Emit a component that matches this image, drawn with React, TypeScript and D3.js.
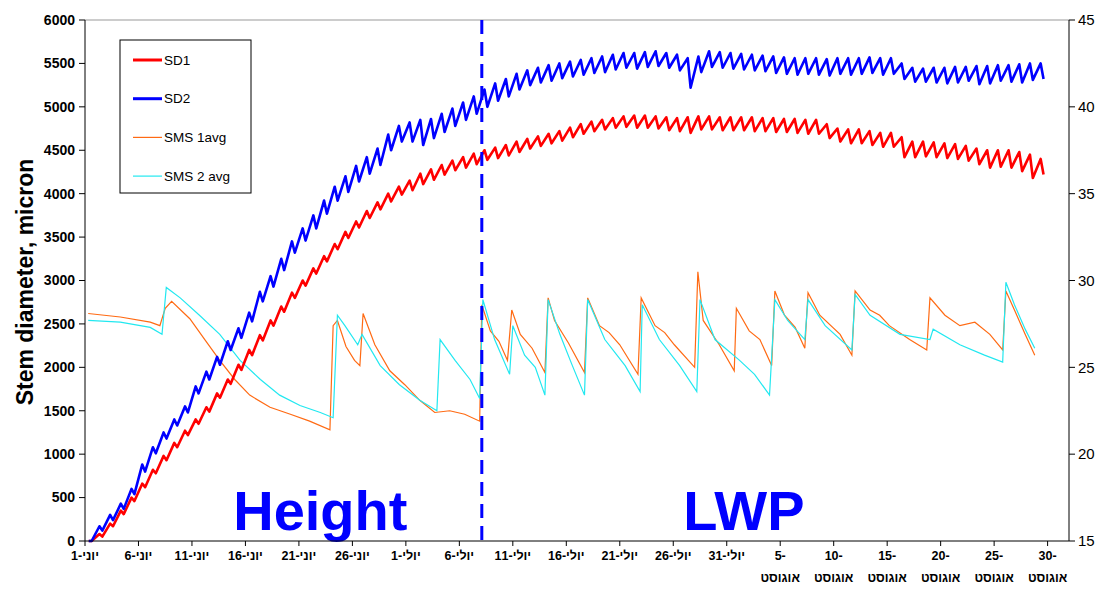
import React from "react";
import * as d3 from "d3";

// daily envelope of stem diameter (micron): morning max / afternoon min, day 0 = 1 June
const sd1Max = [
  0, 80, 200, 350, 500, 660, 820, 980, 1130, 1270,
  1400, 1540, 1700, 1860, 2030, 2200, 2370, 2540, 2700, 2860,
  3000, 3140, 3280, 3420, 3560, 3680, 3800, 3900, 4000, 4080,
  4150, 4230, 4280, 4330, 4380, 4420, 4460, 4500, 4530, 4560,
  4600, 4630, 4660, 4690, 4720, 4760, 4800, 4830, 4850, 4870,
  4890, 4900, 4900, 4890, 4880, 4870, 4880, 4890, 4890, 4880,
  4880, 4880, 4880, 4870, 4870, 4860, 4860, 4850, 4850, 4800,
  4750, 4740, 4740, 4720, 4700, 4700, 4650, 4600, 4600, 4590,
  4580, 4570, 4550, 4520, 4500, 4500, 4500, 4480, 4450, 4400,
];
const sd1Min = [
  0, 50, 170, 310, 460, 620, 780, 930, 1080, 1220,
  1350, 1490, 1650, 1810, 1970, 2140, 2310, 2480, 2640, 2800,
  2940, 3080, 3220, 3360, 3490, 3610, 3720, 3820, 3910, 3990,
  4040, 4110, 4160, 4220, 4270, 4300, 4340, 4390, 4410, 4440,
  4480, 4520, 4550, 4580, 4610, 4650, 4690, 4720, 4740, 4760,
  4770, 4760, 4760, 4750, 4730, 4720, 4700, 4740, 4740, 4730,
  4730, 4730, 4720, 4720, 4710, 4710, 4700, 4690, 4690, 4640,
  4600, 4580, 4580, 4560, 4540, 4540, 4420, 4420, 4430, 4420,
  4410, 4400, 4380, 4340, 4300, 4310, 4300, 4260, 4180, 4220,
];
const sd2Max = [
  0, 170, 300, 430, 600, 880, 1080, 1250, 1400, 1550,
  1780, 1950, 2120, 2300, 2450, 2630, 2870, 3050, 3250, 3450,
  3600, 3750, 3920, 4080, 4200, 4320, 4420, 4520, 4680, 4780,
  4820, 4850, 4860, 4920, 4980, 5050, 5120, 5200, 5270, 5320,
  5380, 5420, 5450, 5480, 5500, 5520, 5540, 5560, 5580, 5600,
  5620, 5620, 5630, 5640, 5620, 5600, 5560, 5580, 5640, 5630,
  5620, 5610, 5600, 5590, 5580, 5570, 5560, 5560, 5560, 5550,
  5560, 5560, 5560, 5570, 5560, 5560, 5500, 5450, 5440, 5450,
  5450, 5460, 5460, 5470, 5470, 5480, 5480, 5490, 5500, 5500,
];
const sd2Min = [
  0, 120, 240, 370, 540, 800, 1010, 1180, 1330, 1480,
  1700, 1860, 2030, 2200, 2340, 2530, 2760, 2930, 3120, 3320,
  3460, 3600, 3770, 3920, 4020, 4140, 4230, 4330, 4500, 4600,
  4600, 4560, 4640, 4710, 4780, 4850, 4920, 5000, 5070, 5120,
  5200, 5250, 5280, 5300, 5330, 5350, 5370, 5390, 5400, 5430,
  5450, 5440, 5460, 5470, 5450, 5420, 5220, 5400, 5460, 5450,
  5440, 5430, 5420, 5410, 5390, 5380, 5370, 5380, 5370, 5360,
  5380, 5370, 5380, 5390, 5370, 5380, 5320, 5290, 5290, 5280,
  5270, 5280, 5300, 5260, 5270, 5300, 5290, 5280, 5310, 5320,
];

// soil moisture sensors (right axis), sampled at turning points
const sms1Days = [
  0.3, 3.3, 6.1, 7.0, 7.5, 8.1, 9.8, 11.2, 12.6, 14.0, 15.4, 17.3, 19.2, 21.0, 22.9,
  23.2, 23.6, 24.4, 25.2, 25.7, 26.0, 27.1, 28.5, 29.9, 31.3, 32.7, 34.1, 35.5, 36.9,
  37.1, 37.9, 38.7, 39.5, 39.9, 40.7, 41.8, 43.0, 43.3, 43.9, 45.2, 46.7, 47.0, 48.1, 49.0, 50.0, 51.7,
  52.0, 53.3, 54.2, 55.1, 57.0, 57.3, 57.8, 59.3, 60.7, 60.9, 62.1, 63.1, 64.2, 64.5, 65.4,
  66.4, 67.3, 67.6, 68.7, 70.6, 71.7, 72.0, 73.4, 74.3, 75.2, 77.1, 78.7, 79.0, 80.4, 81.8,
  83.2, 84.6, 85.8, 86.1, 86.9, 87.9, 88.8,
];
const sms1Vals = [
  28.1, 27.9, 27.6, 27.4, 28.4, 28.8, 27.8, 26.6, 25.4, 24.3, 23.4, 22.7, 22.3, 21.9, 21.4,
  27.4, 27.7, 26.2, 25.4, 25.1, 28.1, 26.3, 24.8, 24.0, 23.1, 22.4, 22.5, 22.3, 21.9,
  28.6, 27.1, 26.5, 25.4, 28.3, 26.9, 26.1, 24.7, 29.0, 27.7, 26.4, 24.7, 29.0, 27.4, 27.0, 26.3, 24.6,
  29.0, 27.4, 27.0, 26.3, 25.0, 30.5, 27.7, 26.3, 24.8, 28.4, 27.1, 26.6, 25.1, 29.4, 28.0,
  27.3, 26.1, 29.3, 28.0, 26.9, 25.7, 29.4, 28.3, 28.0, 27.4, 26.6, 26.0, 29.0, 28.0, 27.4,
  27.6, 26.9, 26.0, 29.4, 28.3, 26.9, 25.7,
];
const sms2Days = [
  0.3, 3.3, 6.1, 7.2, 7.6, 8.9, 10.7, 12.6, 14.5, 16.4, 18.2, 20.1, 22.0, 23.2,
  23.6, 24.3, 25.5, 25.9, 27.6, 29.4, 31.3, 32.9, 33.2, 34.6, 36.0, 36.9,
  37.2, 38.3, 39.7, 40.0, 41.1, 42.1, 43.0, 43.3, 44.4, 45.5, 46.7, 47.0, 48.6, 50.5, 51.9,
  52.1, 53.7, 55.6, 57.2, 57.5, 58.9, 61.2, 62.6, 64.0, 64.5, 65.7, 67.3, 67.6,
  69.2, 71.7, 72.0, 73.4, 76.2, 79.0, 79.3, 81.8, 84.1, 85.8, 86.1, 86.9, 87.9, 88.8,
];
const sms2Vals = [
  27.7, 27.6, 27.3, 26.9, 29.6, 29.0, 28.0, 26.9, 25.4, 24.3, 23.4, 22.8, 22.4, 22.1,
  28.0, 27.4, 26.3, 26.9, 25.1, 24.0, 23.1, 22.5, 26.6, 25.4, 24.3, 23.2,
  28.9, 26.6, 24.6, 27.4, 25.7, 25.0, 23.4, 28.9, 26.9, 25.2, 23.4, 28.9, 26.6, 25.1, 23.6,
  28.6, 26.6, 25.1, 23.6, 28.9, 26.6, 25.4, 24.6, 23.4, 28.9, 27.7, 26.6, 28.9,
  27.4, 26.0, 29.2, 28.0, 26.9, 26.6, 27.2, 26.3, 25.7, 25.3, 29.9, 28.6, 27.2, 26.1,
];

const leftTicks = [0, 500, 1000, 1500, 2000, 2500, 3000, 3500, 4000, 4500, 5000, 5500, 6000];
const rightTicks = [15, 20, 25, 30, 35, 40, 45];
const xTickDays = [0, 5, 10, 15, 20, 25, 30, 35, 40, 45, 50, 55, 60, 65, 70, 75, 80, 85, 90];
const xTickTop = [
  "1-יוני", "6-יוני", "11-יוני", "16-יוני", "21-יוני", "26-יוני",
  "1-יולי", "6-יולי", "11-יולי", "16-יולי", "21-יולי", "26-יולי", "31-יולי",
  "5-", "10-", "15-", "20-", "25-", "30-",
];
const xTickBottom = ["", "", "", "", "", "", "", "", "", "", "", "", "", "אוגוסט", "אוגוסט", "אוגוסט", "אוגוסט", "אוגוסט", "אוגוסט"];
const lwpStartDay = 37.1;
const phases = [
  { name: "Height", day: 22.0 },
  { name: "LWP", day: 61.6 },
];

const legendItems = [
  { name: "SD1", color: "#ff0000", width: 3 },
  { name: "SD2", color: "#0000ff", width: 3 },
  { name: "SMS 1avg", color: "#ff6a13", width: 1.2 },
  { name: "SMS 2 avg", color: "#22e8f0", width: 1.2 },
];

const FONT = "'Liberation Sans', Arial, sans-serif";

const App = () => {
  const left = 85, right = 1069, top = 20, bottom = 541;
  const x = d3.scaleLinear().domain([0, 92]).range([left, right]);
  const yL = d3.scaleLinear().domain([0, 6000]).range([bottom, top]);
  const yR = d3.scaleLinear().domain([15, 45]).range([bottom, top]);

  // stem shrinks fast in the afternoon, recovers overnight
  const toSd = (mx: number[], mn: number[]) =>
    mx.flatMap((v, i) => [[i + 0.35, v], [i + 0.62, mn[i]]]);

  const lineL = d3.line<number[]>().x((d) => x(d[0])).y((d) => yL(d[1]));
  const lineR = d3.line<number[]>().x((d) => x(d[0])).y((d) => yR(d[1]));

  const sd1 = toSd(sd1Max, sd1Min);
  const sd2 = toSd(sd2Max, sd2Min);
  const sms1 = sms1Days.map((d, i) => [d, sms1Vals[i]]);
  const sms2 = sms2Days.map((d, i) => [d, sms2Vals[i]]);

  return (
    <svg width={1100} height={590} style={{ position: "absolute", left: 0, top: 0, background: "#fff" }} fontFamily={FONT}>
      <rect x={0} y={0} width={1100} height={590} fill="#fff" />
      {/* plot frame */}
      <line x1={left} x2={right} y1={top} y2={top} stroke="#999" strokeWidth={1} />

      {/* series */}
      <path d={lineR(sms1) || ""} fill="none" stroke={legendItems[2].color} strokeWidth={1.2} />
      <path d={lineR(sms2) || ""} fill="none" stroke={legendItems[3].color} strokeWidth={1.2} />
      <path d={lineL(sd1) || ""} fill="none" stroke={legendItems[0].color} strokeWidth={2.6} strokeLinejoin="round" />
      <path d={lineL(sd2) || ""} fill="none" stroke={legendItems[1].color} strokeWidth={2.6} strokeLinejoin="round" />

      {/* phase divider */}
      <line x1={x(lwpStartDay)} x2={x(lwpStartDay)} y1={top} y2={bottom} stroke="#0000ff" strokeWidth={3} strokeDasharray="14,8" />
      {phases.map((p) => (
        <text key={p.name} x={x(p.day)} y={530} textAnchor="middle" fontSize={56} fontWeight="bold" fill="#0000ff">
          {p.name}
        </text>
      ))}

      {/* axes */}
      <line x1={left} x2={left} y1={top} y2={bottom} stroke="#000" />
      <line x1={right} x2={right} y1={top} y2={bottom} stroke="#000" />
      <line x1={left} x2={right} y1={bottom} y2={bottom} stroke="#000" />

      {leftTicks.map((t) => (
        <g key={"l" + t}>
          <line x1={left - 6} x2={left} y1={yL(t)} y2={yL(t)} stroke="#000" />
          <text x={left - 10} y={yL(t)} dy="0.35em" textAnchor="end" fontSize={14} fontWeight="bold">
            {t}
          </text>
        </g>
      ))}
      {rightTicks.map((t) => (
        <g key={"r" + t}>
          <line x1={right} x2={right + 6} y1={yR(t)} y2={yR(t)} stroke="#000" />
          <text x={right + 9} y={yR(t)} dy="0.35em" fontSize={15}>
            {t}
          </text>
        </g>
      ))}
      {xTickDays.map((d, i) => (
        <g key={"x" + d}>
          <line x1={x(d)} x2={x(d)} y1={bottom} y2={bottom + 5} stroke="#000" />
          <text x={x(d)} y={560} textAnchor="middle" fontSize={12.5} fontWeight="bold" direction="ltr">
            {xTickTop[i]}
          </text>
          {xTickBottom[i] && (
            <text x={x(d)} y={582} textAnchor="middle" fontSize={12.5} fontWeight="bold">
              {xTickBottom[i]}
            </text>
          )}
        </g>
      ))}

      <text transform="translate(33,282) rotate(-90)" textAnchor="middle" fontSize={23} fontWeight="bold">
        Stem diameter, micron
      </text>

      {/* legend */}
      <rect x={120} y={40} width={131} height={153} fill="#fff" stroke="#000" strokeWidth={1} />
      {legendItems.map((it, i) => (
        <g key={it.name} transform={`translate(133,${60 + i * 38.7})`}>
          <line x1={0} x2={29} y1={0} y2={0} stroke={it.color} strokeWidth={it.width} />
          <text x={31} y={0} dy="0.35em" fontSize={13.5}>
            {it.name}
          </text>
        </g>
      ))}
    </svg>
  );
};

export default App;
